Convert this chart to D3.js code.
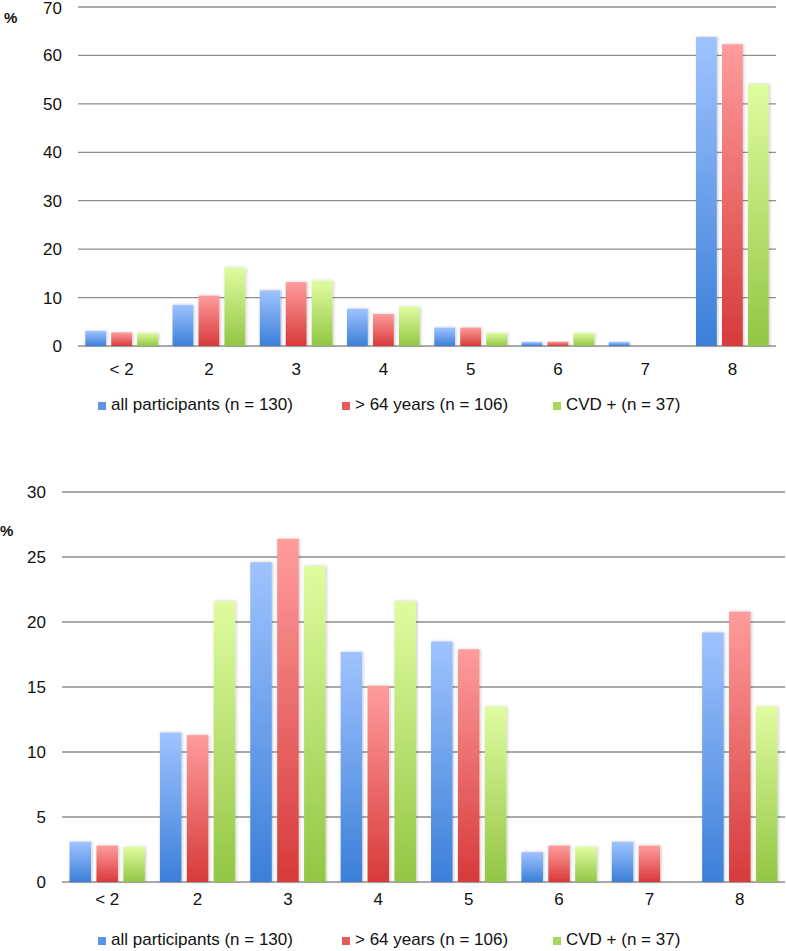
<!DOCTYPE html>
<html>
<head>
<meta charset="utf-8">
<script src="https://cdn.jsdelivr.net/npm/d3@7/dist/d3.min.js"></script>
<style>
  html, body { margin: 0; padding: 0; background: #fff; }
  svg { display: block; font-family: "Liberation Sans", Arial, Helvetica, sans-serif; }
</style>
</head>
<body>
<svg id="chart" width="786" height="951"></svg>
<script>
// ---- Data ----
const categories = ["< 2", "2", "3", "4", "5", "6", "7", "8"];
const seriesNames = ["all participants (n = 130)", "> 64 years (n = 106)", "CVD + (n = 37)"];

// Top chart (%)
const topAll   = [3.1, 8.5, 11.5, 7.7, 3.8, 0.8, 0.8, 63.8];
const topOld   = [2.8, 10.4, 13.2, 6.6, 3.8, 0.9, 0, 62.3];
const topCvd   = [2.7, 16.2, 13.5, 8.1, 2.7, 2.7, 0, 54.1];
const topTicks = [0, 10, 20, 30, 40, 50, 60, 70];

// Bottom chart (%)
const botAll   = [3.1, 11.5, 24.6, 17.7, 18.5, 2.3, 3.1, 19.2];
const botOld   = [2.8, 11.3, 26.4, 15.1, 17.9, 2.8, 2.8, 20.8];
const botCvd   = [2.7, 21.6, 24.3, 21.6, 13.5, 2.7, 0, 13.5];
const botTicks = [0, 5, 10, 15, 20, 25, 30];

const svg = d3.select("#chart");
const defs = svg.append("defs");

const gradColors = [
  ["#9fc3ff", "#3b7fd8"],
  ["#ff9c9c", "#d73a3a"],
  ["#dffca0", "#93c644"]
];
gradColors.forEach((c, i) => {
  const g = defs.append("linearGradient")
    .attr("id", "grad" + i)
    .attr("x1", 0).attr("y1", 0).attr("x2", 0).attr("y2", 1);
  g.append("stop").attr("offset", "0%").attr("stop-color", c[0]);
  g.append("stop").attr("offset", "100%").attr("stop-color", c[1]);
});
const legendColors = ["#5a95e8", "#e55a5a", "#a6d65e"];

const f = defs.append("filter").attr("id", "shadow")
  .attr("x", "-30%").attr("y", "-10%").attr("width", "160%").attr("height", "120%");
f.append("feDropShadow").attr("dx", 1).attr("dy", 0).attr("stdDeviation", 1.4)
  .attr("flood-color", "#000").attr("flood-opacity", 0.22);

function drawChart(cfg) {
  const g = svg.append("g");
  const x = d3.scaleBand().domain(categories).range([cfg.x0, cfg.x1]).padding(0);
  const xs = d3.scaleBand().domain([0, 1, 2]).range([0, x.bandwidth()])
    .paddingInner(0.2).paddingOuter(0.28);
  const y = d3.scaleLinear().domain([0, cfg.max]).range([cfg.y0, cfg.y1]);

  // gridlines
  g.selectAll("line.grid").data(cfg.ticks).enter().append("line")
    .attr("x1", cfg.x0).attr("x2", cfg.x1)
    .attr("y1", d => y(d)).attr("y2", d => y(d))
    .attr("stroke", "#8e8e8e").attr("stroke-width", 1.3);

  // y tick labels
  g.selectAll("text.ytick").data(cfg.ticks).enter().append("text")
    .attr("x", cfg.labelX).attr("y", d => Math.max(y(d) + 6, 14))
    .attr("text-anchor", "end").attr("font-size", 17).attr("fill", "#111")
    .text(d => d);

  // % label
  g.append("text").attr("x", cfg.pctX).attr("y", cfg.pctY)
    .attr("font-size", 15).attr("font-weight", "bold").attr("fill", "#111").text("%");

  // bars
  cfg.series.forEach((vals, si) => {
    g.selectAll("rect.s" + si).data(vals.map((v, i) => ({ c: categories[i], v })))
      .enter().append("rect")
      .filter(d => d.v > 0)
      .attr("x", d => x(d.c) + xs(si))
      .attr("width", xs.bandwidth())
      .attr("y", d => y(d.v))
      .attr("height", d => y(0) - y(d.v))
      .attr("fill", "url(#grad" + si + ")")
      .attr("filter", "url(#shadow)");
  });

  // category labels
  g.selectAll("text.cat").data(categories).enter().append("text")
    .attr("x", d => x(d) + x.bandwidth() / 2)
    .attr("y", cfg.catY)
    .attr("text-anchor", "middle").attr("font-size", 17).attr("fill", "#111")
    .text(d => d);

  // legend
  const lx = [98, 342, 553];
  seriesNames.forEach((name, i) => {
    g.append("rect").attr("x", lx[i]).attr("y", cfg.legY - 8)
      .attr("width", 8).attr("height", 8).attr("fill", legendColors[i]);
    g.append("text").attr("x", lx[i] + 13).attr("y", cfg.legY)
      .attr("font-size", 17).attr("fill", "#111").text(name);
  });
}

drawChart({
  x0: 78, x1: 776, y0: 346, y1: 7, max: 70, ticks: topTicks,
  labelX: 62, pctX: 4, pctY: 23, catY: 375, legY: 410,
  series: [topAll, topOld, topCvd]
});

drawChart({
  x0: 62, x1: 785, y0: 882, y1: 492, max: 30, ticks: botTicks,
  labelX: 46, pctX: 0, pctY: 536, catY: 905, legY: 945,
  series: [botAll, botOld, botCvd]
});
</script>
</body>
</html>
